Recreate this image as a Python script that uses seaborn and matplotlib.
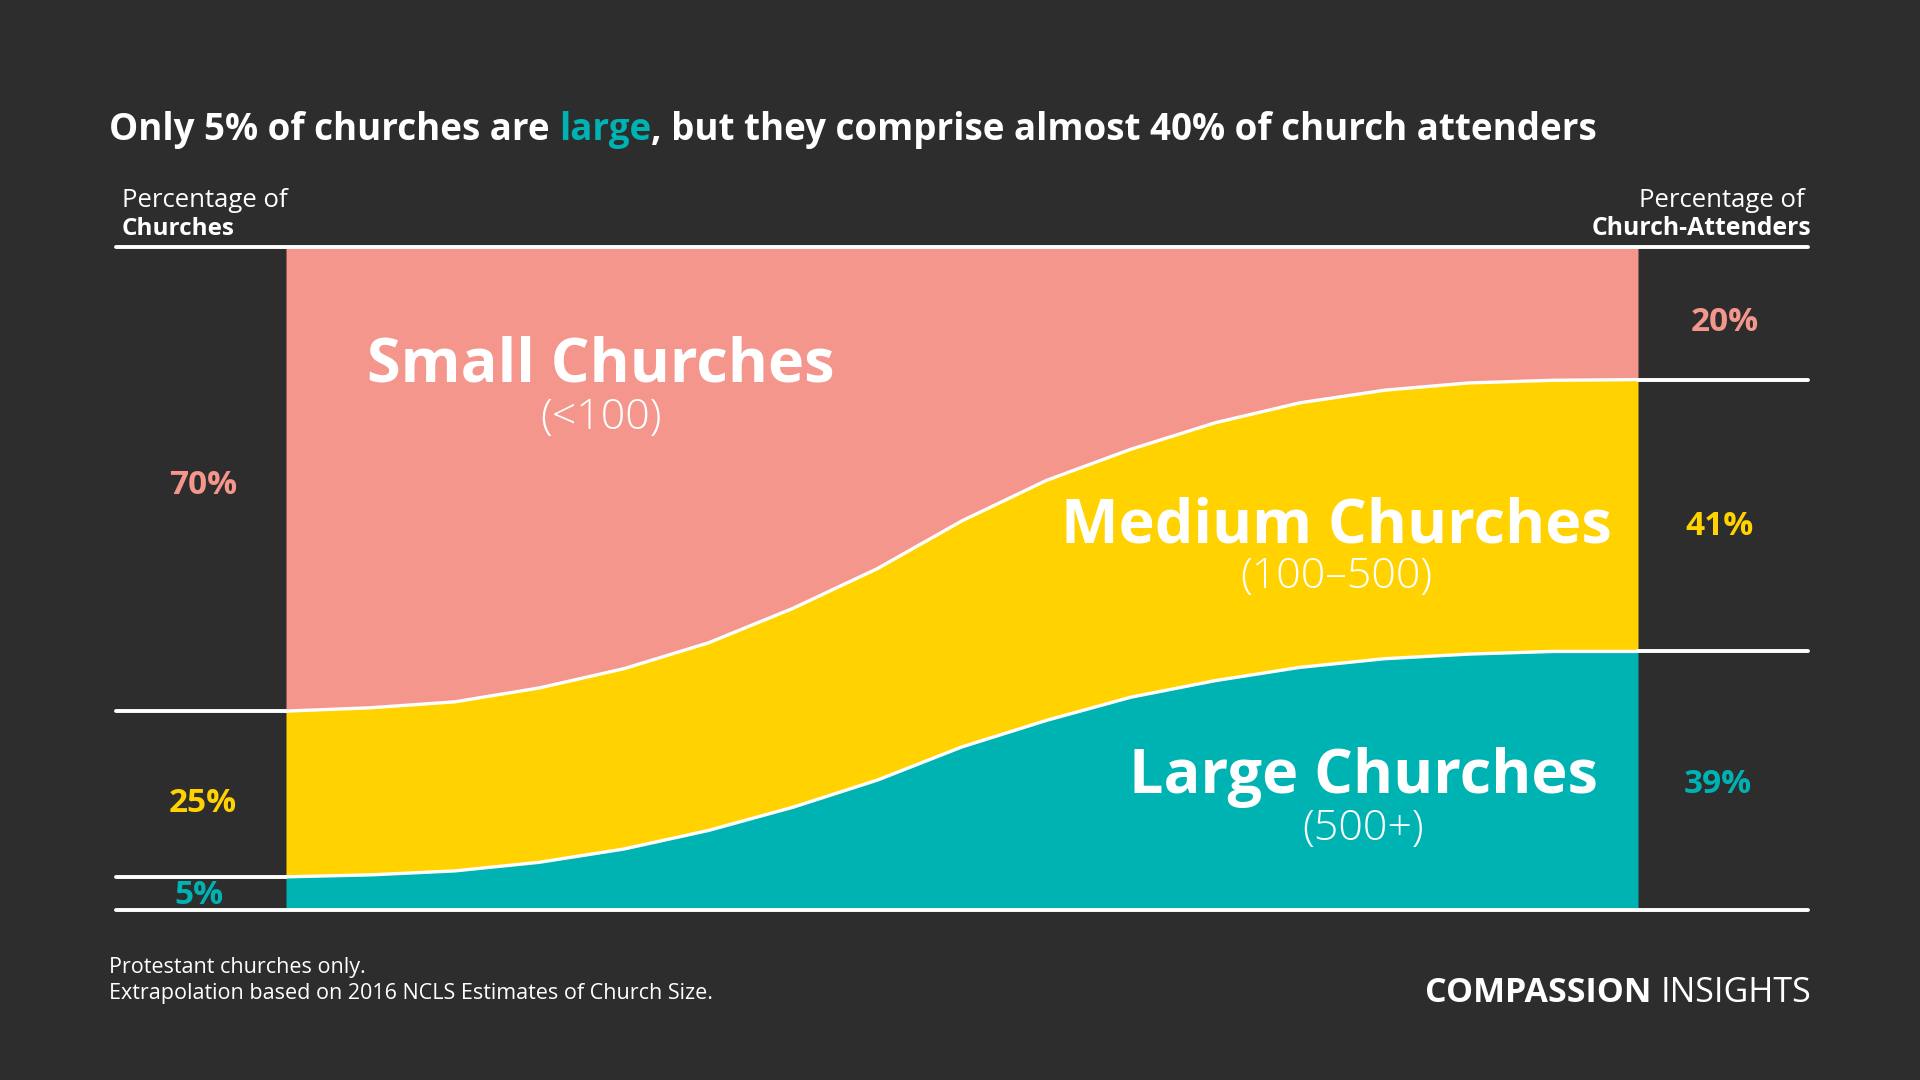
import numpy as np
import pandas as pd
import matplotlib
matplotlib.use("Agg")
import matplotlib.pyplot as plt
import seaborn as sns

# ---------------- data ----------------
stages = list(range(17))
large_pct = [5.0, 5.3, 5.9, 7.2, 9.2, 12.0, 15.5, 19.6, 24.6, 28.6, 32.1, 34.6, 36.6, 37.9, 38.6, 39.0, 39.0]
medium_pct = [25.0, 25.2, 25.5, 26.3, 27.2, 28.3, 30.0, 31.9, 34.1, 36.2, 37.4, 38.9, 39.9, 40.5, 40.9, 40.9, 41.0]
small_pct = [100 - l - m for l, m in zip(large_pct, medium_pct)]
left_labels = ["5%", "25%", "70%"]
right_labels = ["39%", "41%", "20%"]
categories = ["Large Churches", "Medium Churches", "Small Churches"]
subtitles = ["(500+)", "(100–500)", "(<100)"]

BG = "#2D2D2D"
C_SMALL = "#F4968C"
C_MED = "#FFD200"
C_LARGE = "#00B3B3"
WHITE = "#FFFFFF"

sns.set_theme(style="white")
plt.rcParams["font.family"] = ["Open Sans", "DejaVu Sans"]

W, H = 1920, 1080
fig = plt.figure(figsize=(19.2, 10.8), dpi=100, facecolor=BG)

# axes spanning line extents
px_left, px_right = 116, 1808
px_top, px_bot = 247, 910
ax = fig.add_axes([px_left / W, 1 - px_bot / H, (px_right - px_left) / W, (px_bot - px_top) / H])
ax.set_facecolor(BG)
unit = (1638 - 286) / 16.0
ext = (286 - px_left) / unit
ax.set_xlim(-ext, 16 + ext)
ax.set_ylim(0, 100)
ax.axis("off")

x = np.array(stages, dtype=float)
lg = np.array(large_pct)
cum_med = lg + np.array(medium_pct)

ax.fill_between(x, 0, lg, color=C_LARGE, lw=0, zorder=1)
ax.fill_between(x, lg, cum_med, color=C_MED, lw=0, zorder=1)
ax.fill_between(x, cum_med, 100, color=C_SMALL, lw=0, zorder=1)

df = pd.DataFrame({
    "stage": stages * 2,
    "value": list(lg) + list(cum_med),
    "boundary": ["large"] * len(stages) + ["medium"] * len(stages),
})
sns.lineplot(data=df, x="stage", y="value", hue="boundary",
             palette={"large": WHITE, "medium": WHITE}, lw=2.4, legend=False, ax=ax, zorder=3)

# horizontal rules
lw_rule = 2.8
for yv in (0, 100):
    ax.plot([-ext, 16 + ext], [yv, yv], color=WHITE, lw=lw_rule, clip_on=False,
            solid_capstyle="round", zorder=4)
for yv in (lg[0], cum_med[0]):
    ax.plot([-ext, 0], [yv, yv], color=WHITE, lw=lw_rule, clip_on=False,
            solid_capstyle="round", zorder=4)
for yv in (lg[-1], cum_med[-1]):
    ax.plot([16, 16 + ext], [yv, yv], color=WHITE, lw=lw_rule, clip_on=False,
            solid_capstyle="round", zorder=4)

# side percentages (baseline positions)
colors = [C_LARGE, C_MED, C_SMALL]
left_y = [0.95, 14.8, 62.8]
right_y = [17.6, 56.6, 87.4]
left_x = [-1.03, -0.98, -0.98]
right_x = [16.94, 16.97, 17.03]
for i in range(3):
    ax.text(left_x[i], left_y[i], left_labels[i], color=colors[i], fontsize=24, fontweight="bold",
            ha="center", va="baseline")
    ax.text(right_x[i], right_y[i], right_labels[i], color=colors[i], fontsize=24, fontweight="bold",
            ha="center", va="baseline")

# in-area labels
label_pos = [(12.75, 20.0, 12.2), (12.43, 57.8, 50.2), (3.73, 82.0, 74.2)]
for (cx, cy, sy), name, sub in zip(label_pos, categories, subtitles):
    ax.text(cx, cy, name, color=WHITE, fontsize=44, fontweight="bold", ha="center", va="center", zorder=5)
    ax.text(cx, sy, sub, color=WHITE, fontsize=31, fontweight="light", ha="center", va="center", zorder=5)

# ---- title with coloured word ----
fig.canvas.draw()
renderer = fig.canvas.get_renderer()
title_parts = [("Only 5% of churches are ", WHITE), ("large", C_LARGE),
               (", but they comprise almost 40% of church attenders", WHITE)]
xpos = 109 / W
ty = 1 - 140 / H
for txt, col in title_parts:
    t = fig.text(xpos, ty, txt, color=col, fontsize=26.5, fontweight="bold", ha="left", va="baseline")
    bb = t.get_window_extent(renderer=renderer)
    xpos = bb.x1 / W

# headers
fig.text(122 / W, 1 - 207 / H, "Percentage of", color=WHITE, fontsize=18.5, ha="left", va="baseline")
fig.text(122 / W, 1 - 235 / H, "Churches", color=WHITE, fontsize=17.5, fontweight="bold", ha="left", va="baseline")
fig.text(1805 / W, 1 - 207 / H, "Percentage of", color=WHITE, fontsize=18.5, ha="right", va="baseline")
fig.text(1811 / W, 1 - 235 / H, "Church-Attenders", color=WHITE, fontsize=17.8, fontweight="bold", ha="right", va="baseline")

# footer
fig.text(109 / W, 1 - 973 / H, "Protestant churches only.", color=WHITE, fontsize=15.5, ha="left", va="baseline")
fig.text(109 / W, 1 - 999 / H, "Extrapolation based on 2016 NCLS Estimates of Church Size.", color=WHITE,
         fontsize=15.5, ha="left", va="baseline")
t2 = fig.text(1811 / W, 1 - 1002 / H, "INSIGHTS", color=WHITE, fontsize=24.5, ha="right", va="baseline")
bb = t2.get_window_extent(renderer=renderer)
fig.text(bb.x0 / W, 1 - 1002 / H, "COMPASSION ", color=WHITE, fontsize=24.5, fontweight="bold",
         ha="right", va="baseline")

fig.savefig("out.png", dpi=100, facecolor=BG)
